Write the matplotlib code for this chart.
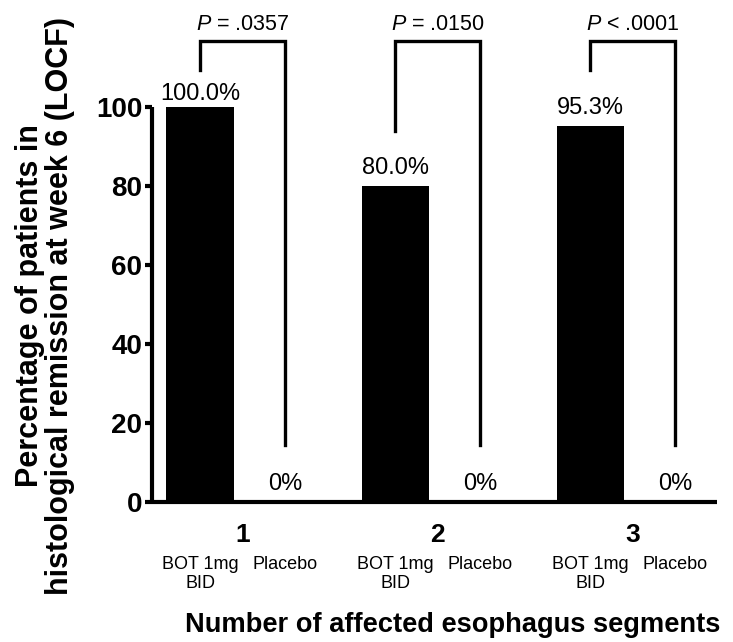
import matplotlib
matplotlib.use("Agg")
import matplotlib.pyplot as plt
import matplotlib.transforms as mtransforms

plt.rcParams['font.family'] = ['Liberation Sans', 'DejaVu Sans']
plt.rcParams['mathtext.fontset'] = 'custom'
plt.rcParams['mathtext.rm'] = 'Liberation Sans'
plt.rcParams['mathtext.it'] = 'Liberation Sans:italic'

# ---- data ----
groups = ['1', '2', '3']
treatments = ['BOT 1mg\nBID', 'Placebo']
bot_values = [100.0, 80.0, 95.3]
placebo_values = [0.0, 0.0, 0.0]
bot_labels = ['100.0%', '80.0%', '95.3%']
placebo_labels = ['0%', '0%', '0%']
p_labels = ['$P$ = .0357', '$P$ = .0150', '$P$ < .0001']
yticks = [0, 20, 40, 60, 80, 100]

# ---- layout ----
group_gap = 2.294
bot_x = [i * group_gap for i in range(3)]
plc_x = [x + 1 for x in bot_x]
bar_w = 0.79
bracket_top = 116.7
bracket_left_bottom = [109.4, 93.9, 109.4]
bracket_right_bottom = [14.4, 14.4, 14.4]
label_offsets = [5.0, 8.5, 8.5]

W, H = 733, 642
fig = plt.figure(figsize=(W / 100, H / 100), dpi=100)
ax = fig.add_axes([152 / W, 140 / H, 565 / W, 395 / H])

ax.bar(bot_x, bot_values, width=bar_w, color='black', zorder=2)
ax.bar(plc_x, placebo_values, width=bar_w, color='white', edgecolor='black', zorder=2)

for i in range(3):
    ax.annotate(bot_labels[i], (bot_x[i], bot_values[i]), xytext=(0, label_offsets[i]),
                textcoords='offset points', ha='center', va='baseline', fontsize=17)
    ax.annotate(placebo_labels[i], (plc_x[i], placebo_values[i]), xytext=(0, 8.5),
                textcoords='offset points', ha='center', va='baseline', fontsize=17)
    ax.plot([bot_x[i], bot_x[i], plc_x[i], plc_x[i]],
            [bracket_left_bottom[i], bracket_top, bracket_top, bracket_right_bottom[i]],
            color='black', lw=2.4, clip_on=False, solid_joinstyle='miter', zorder=3)
    ax.annotate(p_labels[i], ((bot_x[i] + plc_x[i]) / 2, bracket_top), xytext=(0, 8),
                textcoords='offset points', ha='center', va='baseline', fontsize=15.5,
                annotation_clip=False)

ax.set_xlim(-0.565, 6.08)
ax.set_ylim(0, 100)
ax.set_yticks(yticks)
ax.set_yticklabels([str(t) for t in yticks], fontsize=20, fontweight='bold')
ax.tick_params(axis='y', direction='out', length=5, width=3, pad=2)

xt = []
xl = []
for i in range(3):
    xt += [bot_x[i], plc_x[i]]
    xl += treatments
ax.set_xticks(xt)
ax.set_xticklabels(xl, fontsize=13, linespacing=1.12)
ax.tick_params(axis='x', length=0, pad=39)

trans = mtransforms.blended_transform_factory(ax.transData, ax.transAxes)
for i in range(3):
    ax.text((bot_x[i] + plc_x[i]) / 2, -0.101, groups[i], transform=trans,
            ha='center', va='baseline', fontsize=19, fontweight='bold')

for s in ['top', 'right']:
    ax.spines[s].set_visible(False)
for s in ['left', 'bottom']:
    ax.spines[s].set_linewidth(3)
    ax.spines[s].set_capstyle('butt')

fig.text(453 / W, 1 - 625 / H, 'Number of affected esophagus segments',
         ha='center', va='center', fontsize=19.6, fontweight='bold')
fig.text(45 / W, 1 - 306 / H,
         'Percentage of patients in\nhistological remission at week 6 (LOCF)',
         rotation=90, ha='center', va='center', fontsize=22, fontweight='bold',
         multialignment='center', linespacing=0.98)

fig.savefig('out.png', dpi=100)
